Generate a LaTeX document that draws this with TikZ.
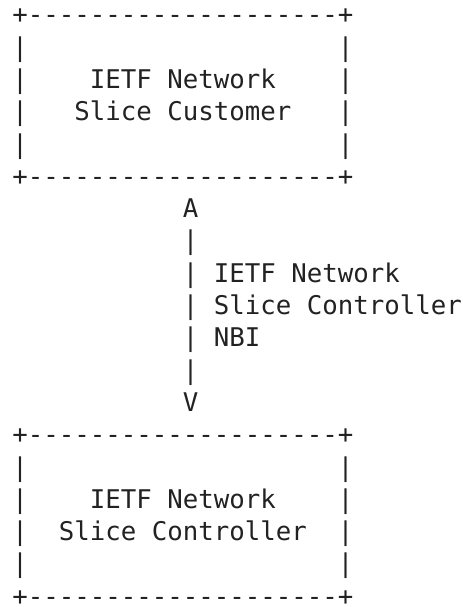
\documentclass[tikz,border=0pt]{standalone}
\usepackage{fontspec}
\setmonofont{DejaVu Sans Mono}
\definecolor{inkgray}{HTML}{222222}

\begin{document}
\begin{tikzpicture}[x=15.5pt,y=-32.3pt]
\tikzstyle{ascii}=[font=\ttfamily\fontsize{25.75}{26}\selectfont,text=inkgray,inner sep=0,anchor=base west]
\useasboundingbox (-0.787,-0.737) rectangle (29.084,18.056);
% customer box
\begin{scope}
\node[ascii] (custtop) at (0,0) {+--------------------+};
\foreach \r in {1,...,4} {
  \node[ascii] (custl\r) at (0,\r) {|};
  \node[ascii] (custr\r) at (21,\r) {|};
}
\node[ascii] (custa) at (5,2) {IETF Network};
\node[ascii] (custb) at (4,3) {Slice Customer};
\node[ascii] (custbot) at (0,5) {+--------------------+};
\end{scope}
% interface
\node[ascii] (nbiup) at (11,6) {A};
\foreach \r in {7,...,11}
  \node[ascii] (nbi\r) at (11,\r) {|};
\node[ascii] (nbidown) at (11,12) {V};
\node[ascii] (nbia) at (13,8) {IETF Network};
\node[ascii] (nbib) at (13,9) {Slice Controller};
\node[ascii] (nbic) at (13,10) {NBI};
% controller box
\begin{scope}[yshift=-419.9pt]
\node[ascii] (ctrltop) at (0,0) {+--------------------+};
\foreach \r in {1,...,4} {
  \node[ascii] (ctrll\r) at (0,\r) {|};
  \node[ascii] (ctrlr\r) at (21,\r) {|};
}
\node[ascii] (ctrla) at (5,2) {IETF Network};
\node[ascii] (ctrlb) at (3,3) {Slice Controller};
\node[ascii] (ctrlbot) at (0,5) {+--------------------+};
\end{scope}
\end{tikzpicture}
\end{document}
